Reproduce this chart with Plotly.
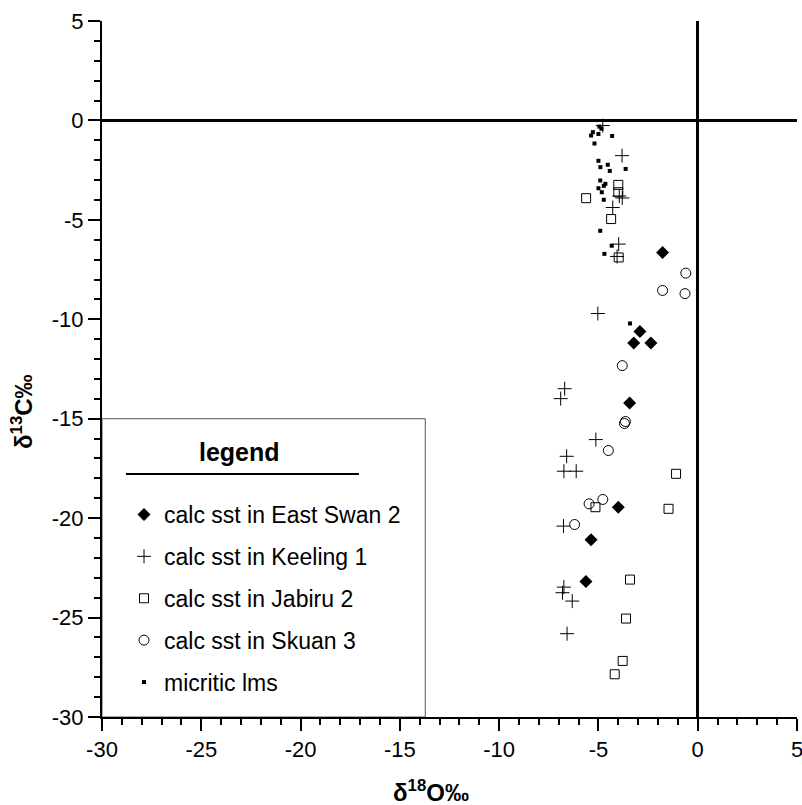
import plotly.graph_objects as go

# ---- data (δ18O, δ13C) ----
east_swan_x = [-1.77, -2.91, -3.22, -2.36, -3.43, -4.00, -5.37, -5.63]
east_swan_y = [-6.64, -10.61, -11.19, -11.19, -14.21, -19.45, -21.09, -23.19]

keeling_x = [-4.78, -3.81, -3.95, -3.80, -4.28, -3.98, -4.06, -5.03, -6.70, -6.90,
             -5.13, -6.60, -6.74, -6.12, -6.76, -6.74, -6.81, -6.32, -6.58]
keeling_y = [-0.26, -1.77, -3.80, -3.90, -4.38, -6.22, -6.84, -9.71, -13.49, -13.99,
             -16.05, -16.89, -17.64, -17.64, -20.40, -23.47, -23.75, -24.17, -25.81]

jabiru_x = [-4.00, -4.00, -5.62, -4.36, -3.98, -1.09, -5.15, -1.47, -3.41, -3.61, -3.78, -4.18]
jabiru_y = [-3.24, -3.61, -3.91, -4.96, -6.89, -17.77, -19.45, -19.53, -23.09, -25.05, -27.18, -27.85]

skuan_x = [-0.60, -1.77, -0.64, -3.80, -3.64, -3.69, -4.50, -5.47, -4.78, -6.20]
skuan_y = [-7.68, -8.55, -8.71, -12.33, -15.14, -15.24, -16.60, -19.28, -19.06, -20.32]

micritic_x = [-4.95, -4.85, -5.28, -5.37, -5.00, -4.31, -5.20, -5.00, -4.90, -4.53, -4.43,
              -3.63, -4.91, -4.65, -4.73, -5.00, -4.83, -4.73, -4.91, -4.33, -4.70, -3.41]
micritic_y = [-0.31, -0.42, -0.59, -0.76, -0.68, -0.78, -1.16, -2.03, -2.35, -2.23, -2.54,
              -2.44, -3.02, -3.19, -3.29, -3.41, -3.61, -3.99, -5.55, -6.30, -6.71, -10.21]

series_names = ["calc sst in East Swan 2", "calc sst in Keeling 1", "calc sst in Jabiru 2",
                "calc sst in Skuan 3", "micritic lms"]

x_range = [-30, 5]
y_range = [-30, 5]
x_tickvals = [-30, -25, -20, -15, -10, -5, 0, 5]
x_ticktext = ["-30", "-25", "-20", "-15", "-10", "-5", "0", "5"]
y_tickvals = [-30, -25, -20, -15, -10, -5, 0, 5]
y_ticktext = ["-30", "-25", "-20", "-15", "-10", "-5", "0", "5"]
legend_box = dict(x0=-30, x1=-13.72, y0=-30, y1=-15)

FONT = "Liberation Sans, Arial, Helvetica, sans-serif"

# plot area in pixels
L, R, T, B = 102, 797, 21, 717
W, H = 802, 805


def xp(px):
    return (px - L) / (R - L)


def yp(py):
    return (B - py) / (B - T)


fig = go.Figure()

fig.add_trace(go.Scatter(x=east_swan_x, y=east_swan_y, mode="markers", name=series_names[0],
                         legendgroup="g1",
                         marker=dict(symbol="diamond", size=10, color="black")))
fig.add_trace(go.Scatter(x=keeling_x, y=keeling_y, mode="markers", name=series_names[1],
                         legendgroup="g2",
                         marker=dict(symbol="cross-thin-open", size=10, color="black",
                                     line=dict(width=1, color="black"))))
fig.add_trace(go.Scatter(x=jabiru_x, y=jabiru_y, mode="markers", name=series_names[2],
                         legendgroup="g3",
                         marker=dict(symbol="square-open", size=9, color="black",
                                     line=dict(width=1, color="black"))))
fig.add_trace(go.Scatter(x=skuan_x, y=skuan_y, mode="markers", name=series_names[3],
                         legendgroup="g4",
                         marker=dict(symbol="circle-open", size=10, color="black",
                                     line=dict(width=1, color="black"))))
fig.add_trace(go.Scatter(x=micritic_x, y=micritic_y, mode="markers", name=series_names[4],
                         legendgroup="g5",
                         marker=dict(symbol="square", size=4, color="black")))

axis_common = dict(
    showgrid=False, showline=True, linecolor="black", linewidth=2,
    ticks="outside", ticklen=12, tickwidth=1.5, tickcolor="black",
    minor=dict(ticks="outside", ticklen=6, tickwidth=1.5, tickcolor="black",
               dtick=1, tick0=0, showgrid=False),
    zeroline=True, zerolinecolor="black", zerolinewidth=2.5,
    tickfont=dict(family=FONT, size=22, color="black"),
    mirror=False, fixedrange=True, automargin=False,
    ticklabeloverflow="allow",
)

fig.update_xaxes(range=x_range, autorange=False, tickmode="array",
                 tickvals=x_tickvals, ticktext=x_ticktext, **axis_common)
fig.update_yaxes(range=y_range, autorange=False, tickmode="array",
                 tickvals=y_tickvals, ticktext=y_ticktext, **axis_common)

fig.add_shape(type="rect", xref="x", yref="y", layer="below",
              line=dict(color="#555555", width=1), fillcolor="rgba(0,0,0,0)", **legend_box)
fig.add_shape(type="line", xref="paper", yref="paper",
              x0=xp(126), x1=xp(359), y0=yp(474), y1=yp(474),
              line=dict(color="black", width=2))

fig.add_annotation(text="<b>legend</b>", xref="paper", yref="paper",
                   x=xp(239), y=yp(452), showarrow=False,
                   xanchor="center", yanchor="middle",
                   font=dict(family=FONT, size=25, color="black"))

fig.add_annotation(text="<b>δ<sup>18</sup>O‰</b>", xref="paper", yref="paper",
                   x=xp(431), y=yp(791), showarrow=False,
                   xanchor="center", yanchor="middle",
                   font=dict(family=FONT, size=24, color="black"))
fig.add_annotation(text="<b>δ<sup>13</sup>C‰</b>", xref="paper", yref="paper",
                   x=xp(22), y=yp(412), showarrow=False, textangle=-90,
                   xanchor="center", yanchor="middle",
                   font=dict(family=FONT, size=24, color="black"))

fig.update_layout(
    width=W, height=H,
    margin=dict(l=L, r=W - R, t=T, b=H - B, autoexpand=False),
    paper_bgcolor="white", plot_bgcolor="white",
    showlegend=True,
    legend=dict(x=xp(124), y=yp(493), xanchor="left", yanchor="top",
                bgcolor="rgba(0,0,0,0)", borderwidth=0,
                font=dict(family=FONT, size=23, color="black"),
                tracegroupgap=9, itemclick=False, itemdoubleclick=False),
)

fig.write_html("out.html", config={"displayModeBar": False},
               post_script="document.body.style.margin='0';document.body.style.overflow='hidden';")
